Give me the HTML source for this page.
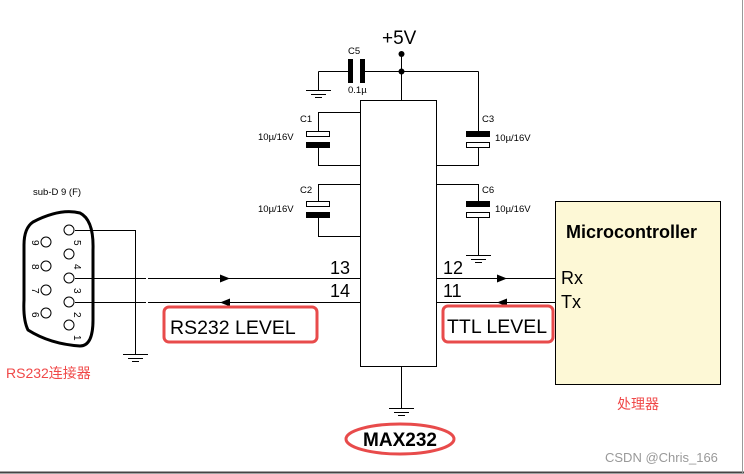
<!DOCTYPE html>
<html><head><meta charset="utf-8"><style>
html,body{margin:0;padding:0;background:#fff;}
svg{display:block;}
text{font-family:"Liberation Sans","Noto Sans CJK SC",sans-serif;}
</style></head><body>
<svg width="744" height="474" viewBox="0 0 744 474" xmlns="http://www.w3.org/2000/svg">
<rect x="0" y="0" width="744" height="474" fill="#fff"/>
<line x1="0" y1="472.5" x2="744" y2="472.5" stroke="#444" stroke-width="2"/>
<line x1="742.5" y1="0" x2="742.5" y2="474" stroke="#999" stroke-width="1"/>
<g stroke="#000" stroke-width="1" fill="none">
<rect x="360.5" y="100.5" width="76" height="266" fill="#fff"/>
<line x1="401.5" y1="54" x2="401.5" y2="100"/>
<line x1="318.5" y1="71.5" x2="348" y2="71.5"/>
<line x1="365" y1="71.5" x2="478.5" y2="71.5"/>
<line x1="318.5" y1="71.5" x2="318.5" y2="90"/>
<line x1="306" y1="90.5" x2="331" y2="90.5"/><line x1="311" y1="94.5" x2="326" y2="94.5"/><line x1="315" y1="97.5" x2="322" y2="97.5"/>
<polyline points="360,112.5 318.5,112.5 318.5,131"/>
<polyline points="318.5,148 318.5,165.5 360,165.5"/>
<polyline points="360,184.5 318.5,184.5 318.5,201"/>
<polyline points="318.5,218 318.5,236.5 360,236.5"/>
<line x1="478.5" y1="71.5" x2="478.5" y2="131"/>
<polyline points="478.5,148 478.5,165.5 437,165.5"/>
<polyline points="437,184.5 478.5,184.5 478.5,201"/>
<line x1="478.5" y1="218" x2="478.5" y2="255"/>
<line x1="466" y1="255.5" x2="491" y2="255.5"/><line x1="471" y1="259.5" x2="486" y2="259.5"/><line x1="475" y1="262.5" x2="482" y2="262.5"/>
<line x1="401.5" y1="366" x2="401.5" y2="408"/>
<line x1="389" y1="408.5" x2="414" y2="408.5"/><line x1="394" y1="412.5" x2="409" y2="412.5"/><line x1="398" y1="415.5" x2="405" y2="415.5"/>
<line x1="75" y1="278.5" x2="146" y2="278.5"/><line x1="148" y1="278.5" x2="360" y2="278.5"/>
<line x1="75" y1="302.5" x2="146" y2="302.5"/><line x1="148" y1="302.5" x2="360" y2="302.5"/>
<line x1="437" y1="278.5" x2="555" y2="278.5"/>
<line x1="437" y1="302.5" x2="555" y2="302.5"/>
<polyline points="75,230.5 135.5,230.5 135.5,354"/>
<line x1="123" y1="354.5" x2="148" y2="354.5"/><line x1="128" y1="358.5" x2="143" y2="358.5"/><line x1="132" y1="361.5" x2="139" y2="361.5"/>
</g>
<g fill="#000">
<circle cx="401.5" cy="54" r="3"/><circle cx="401.5" cy="71.5" r="3"/>
<rect x="348" y="59" width="5" height="24"/><rect x="360" y="59" width="5" height="24"/>
<rect x="306" y="142" width="24" height="6"/><rect x="306" y="212" width="24" height="6"/>
<rect x="466" y="131" width="24" height="6"/><rect x="466" y="201" width="24" height="6"/>
<polygon points="220,274.5 230,278.5 220,282.5"/>
<polygon points="230,298.5 220,302.5 230,306.5"/>
<polygon points="497,274.5 507,278.5 497,282.5"/>
<polygon points="507,298.5 497,302.5 507,306.5"/>
</g>
<g fill="#fff" stroke="#000">
<rect x="306.5" y="131.5" width="23" height="5"/><rect x="306.5" y="201.5" width="23" height="5"/>
<rect x="466.5" y="142.5" width="23" height="5"/><rect x="466.5" y="212.5" width="23" height="5"/>
</g>
<rect x="555.5" y="201.5" width="165" height="183" fill="#fdf8d6" stroke="#000"/>
<path d="M33,222 Q60,208 80,213 Q94,220 93,250 L93,320 Q93,346 80,346 Q50,344 28,330 Q23,320 24,300 L24,245 Q24,228 33,222 Z" fill="none" stroke="#000" stroke-width="3"/>
<g fill="#fff" stroke="#000">
<circle cx="69" cy="230" r="5"/><circle cx="69" cy="254" r="5"/><circle cx="69" cy="278" r="5"/><circle cx="69" cy="302" r="5"/><circle cx="69" cy="325" r="5"/>
<circle cx="46" cy="242" r="5"/><circle cx="46" cy="266" r="5"/><circle cx="46" cy="290" r="5"/><circle cx="46" cy="313" r="5"/>
</g>
<g font-size="10" fill="#000">
<text transform="translate(74,240) rotate(90)">5</text>
<text transform="translate(74,264) rotate(90)">4</text>
<text transform="translate(74,288) rotate(90)">3</text>
<text transform="translate(74,312) rotate(90)">2</text>
<text transform="translate(74,335) rotate(90)">1</text>
<text transform="translate(32,240) rotate(90)">9</text>
<text transform="translate(32,264) rotate(90)">8</text>
<text transform="translate(32,288) rotate(90)">7</text>
<text transform="translate(32,312) rotate(90)">6</text>
</g>
<g font-size="9.5" fill="#000">
<text x="33" y="195">sub-D 9 (F)</text>
<text x="348" y="54">C5</text>
<text x="348" y="93">0.1µ</text>
<text x="300" y="122">C1</text>
<text x="258" y="140">10µ/16V</text>
<text x="300" y="193">C2</text>
<text x="258" y="212">10µ/16V</text>
<text x="482" y="122">C3</text>
<text x="495" y="141">10µ/16V</text>
<text x="482" y="193">C6</text>
<text x="495" y="212">10µ/16V</text>
</g>
<text x="382" y="44" font-size="19" fill="#000">+5V</text>
<g font-size="18" fill="#000">
<text x="330" y="274">13</text><text x="330" y="297">14</text>
<text x="443" y="274">12</text><text x="443" y="297">11</text>
<text x="561" y="284">Rx</text><text x="561" y="308">Tx</text>
</g>
<text x="566" y="238" font-size="18" font-weight="bold" fill="#000">Microcontroller</text>
<rect x="164" y="307" width="153" height="35" rx="5" fill="none" stroke="#e84b4b" stroke-width="3"/>
<text x="170" y="334" font-size="19.5" fill="#000">RS232 LEVEL</text>
<rect x="443" y="306" width="110" height="36" rx="5" fill="none" stroke="#e84b4b" stroke-width="3"/>
<text x="447" y="333" font-size="19.5" fill="#000">TTL LEVEL</text>
<ellipse cx="400" cy="439" rx="54" ry="15" fill="none" stroke="#e84b4b" stroke-width="3"/>
<text x="400" y="446" font-size="19" font-weight="bold" text-anchor="middle" fill="#000">MAX232</text>
<text x="6" y="378" font-size="14" fill="#f04848">RS232连接器</text>
<text x="617" y="409" font-size="14" fill="#f04848">处理器</text>
<text x="605" y="462" font-size="13" fill="#999">CSDN @Chris_166</text>
</svg>
</body></html>
